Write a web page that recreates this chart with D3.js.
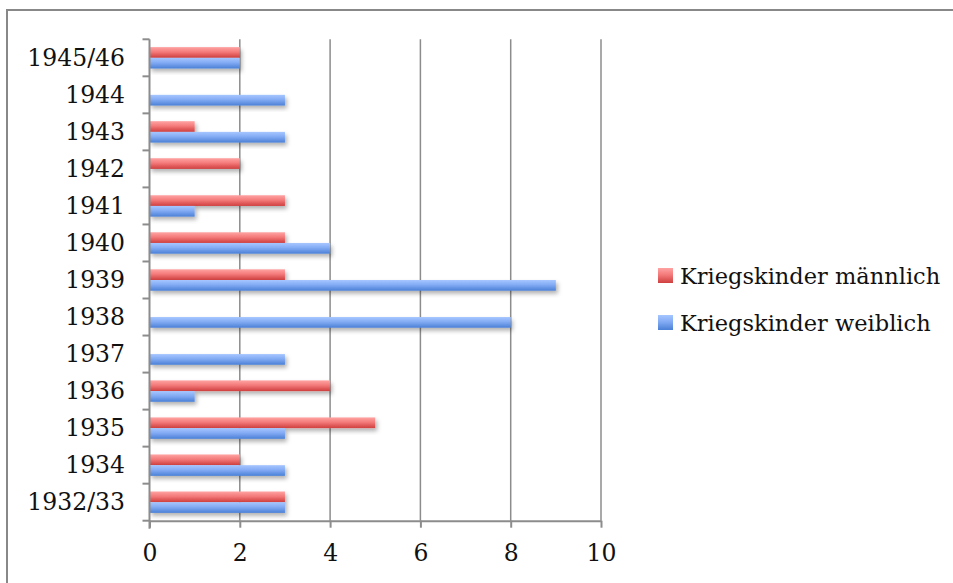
<!DOCTYPE html>
<html><head><meta charset="utf-8">
<script src="https://cdn.jsdelivr.net/npm/d3@7"></script>
<style>html,body{margin:0;padding:0;background:#fff;}svg{display:block;}</style>
</head><body>
<svg id="c" width="953" height="583"></svg>
<script>
const categories = ["1932/33","1934","1935","1936","1937","1938","1939","1940","1941","1942","1943","1944","1945/46"];
const male   = [3,2,5,4,0,0,3,3,3,2,1,0,2];
const female = [3,3,3,1,3,8,9,4,1,0,3,3,2];
const seriesNames = ["Kriegskinder männlich","Kriegskinder weiblich"];
const xTicks = [0,2,4,6,8,10];

const svg = d3.select("#c");
const FONT = "'DejaVu Serif', serif";
const pLeft = 149.5, pRight = 601, pTop = 39.3, pBottom = 520.7;

const defs = svg.append("defs");
function grad(id, stops){
  const g = defs.append("linearGradient").attr("id", id).attr("x1",0).attr("y1",0).attr("x2",0).attr("y2",1);
  stops.forEach(s => g.append("stop").attr("offset", s[0]).attr("stop-color", s[1]));
}
grad("gRed", [[0,"#ffa3a3"],[0.45,"#f47a7a"],[1,"#cf3f3f"]]);
grad("gBlue", [[0,"#a6c6ff"],[0.45,"#83abf4"],[1,"#4a80d6"]]);
const f = defs.append("filter").attr("id","sh").attr("x","-10%").attr("y","-30%").attr("width","130%").attr("height","190%");
f.append("feDropShadow").attr("dx",2).attr("dy",3).attr("stdDeviation",2).attr("flood-color","#000").attr("flood-opacity",0.3);

// outer border
svg.append("path").attr("d",`M7,583 L7,10 L953,10`).attr("fill","none").attr("stroke","#888").attr("stroke-width",2);

const x = d3.scaleLinear().domain([0,10]).range([pLeft,pRight]);
const y = d3.scaleBand().domain(categories.slice().reverse()).range([pTop,pBottom]).padding(0);
const ys = d3.scaleBand().domain(["m","w"]).range([0,y.bandwidth()]).paddingInner(0).paddingOuter(0.73);

// grid
svg.append("g").selectAll("line").data(xTicks.filter(d=>d>0)).join("line")
  .attr("x1",d=>x(d)).attr("x2",d=>x(d)).attr("y1",pTop).attr("y2",pBottom)
  .attr("stroke","#8c8c8c").attr("stroke-width",1.5);

// bars
const rows = categories.map((c,i)=>({c, m: male[i], w: female[i]}));
const gBars = svg.append("g");
rows.forEach(r=>{
  [["m","url(#gRed)"],["w","url(#gBlue)"]].forEach(([k,fill])=>{
    if (r[k] > 0) {
      gBars.append("rect")
        .attr("x", x(0)).attr("y", y(r.c)+ys(k))
        .attr("width", x(r[k])-x(0)).attr("height", ys.bandwidth())
        .attr("fill", fill).attr("filter","url(#sh)");
    }
  });
});

// axes
const xAxis = d3.axisBottom(x).tickValues(xTicks).tickSize(7).tickPadding(17).tickSizeOuter(0);
const gx = svg.append("g").attr("transform",`translate(0,${pBottom})`).call(xAxis);
gx.select(".domain").attr("stroke","#8c8c8c").attr("stroke-width",2);
gx.selectAll(".tick line").attr("stroke","#8c8c8c").attr("stroke-width",2);
gx.selectAll("text").attr("font-family",FONT).attr("font-size",23.5).attr("fill","#111");

const yTickPos = d3.range(categories.length+1).map(i=>pTop+i*y.bandwidth());
const gy = svg.append("g");
gy.append("line").attr("x1",pLeft).attr("x2",pLeft).attr("y1",pTop).attr("y2",pBottom+8).attr("stroke","#8c8c8c").attr("stroke-width",2);
gy.selectAll("line.t").data(yTickPos).join("line").attr("class","t")
  .attr("x1",pLeft-7).attr("x2",pLeft).attr("y1",d=>d).attr("y2",d=>d)
  .attr("stroke","#8c8c8c").attr("stroke-width",2);
gy.selectAll("text").data(categories).join("text")
  .attr("x",125).attr("y",d=>y(d)+y.bandwidth()/2).attr("dy","0.35em")
  .attr("text-anchor","end").attr("font-family",FONT).attr("font-size",23.5).attr("fill","#111")
  .text(d=>d);

// legend
const lg = svg.append("g");
const legY = [268, 315];
seriesNames.forEach((n,i)=>{
  lg.append("rect").attr("x",658).attr("y",legY[i]).attr("width",15).attr("height",15)
    .attr("fill", i===0?"url(#gRed)":"url(#gBlue)");
  lg.append("text").attr("x",680).attr("y",legY[i]+16).attr("font-family",FONT).attr("font-size",22.5).attr("fill","#111").text(n);
});
</script>
</body></html>
